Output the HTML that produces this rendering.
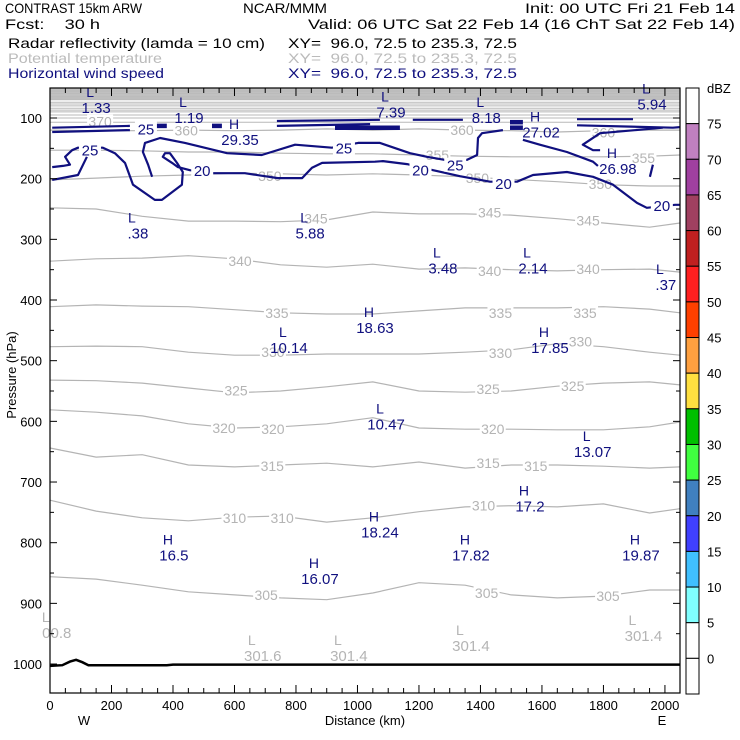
<!DOCTYPE html>
<html><head><meta charset="utf-8"><style>
html,body{margin:0;padding:0;background:#fff;}
svg{display:block;font-family:"Liberation Sans",sans-serif;}
text{white-space:pre;}
</style></head><body>
<svg id="chart" width="740" height="740" viewBox="0 0 740 740" xmlns="http://www.w3.org/2000/svg">
<g font-size="14" fill="#000">
<text x="5" y="13" textLength="137" lengthAdjust="spacingAndGlyphs">CONTRAST 15km ARW</text>
<text x="243" y="13" textLength="84" lengthAdjust="spacingAndGlyphs">NCAR/MMM</text>
<text x="525" y="13" textLength="210" lengthAdjust="spacingAndGlyphs">Init: 00 UTC Fri 21 Feb 14</text>
<text x="5" y="29" textLength="95" lengthAdjust="spacingAndGlyphs">Fcst:    30 h</text>
<text x="308" y="29" textLength="427" lengthAdjust="spacingAndGlyphs">Valid: 06 UTC Sat 22 Feb 14 (16 ChT Sat 22 Feb 14)</text>
<text x="8" y="48" textLength="257" lengthAdjust="spacingAndGlyphs">Radar reflectivity (lamda = 10 cm)</text>
<text x="288" y="48" textLength="229" lengthAdjust="spacingAndGlyphs">XY=  96.0, 72.5 to 235.3, 72.5</text>
<text x="8" y="63" fill="#bbb" textLength="154" lengthAdjust="spacingAndGlyphs">Potential temperature</text>
<text x="288" y="63" fill="#bbb" textLength="229" lengthAdjust="spacingAndGlyphs">XY=  96.0, 72.5 to 235.3, 72.5</text>
<text x="8" y="78" fill="#10107f" textLength="156" lengthAdjust="spacingAndGlyphs">Horizontal wind speed</text>
<text x="288" y="78" fill="#10107f" textLength="229" lengthAdjust="spacingAndGlyphs">XY=  96.0, 72.5 to 235.3, 72.5</text>
</g>
<g id="plot"></g>
<g id="axes"></g>
<g id="cbar"></g>
</svg>
<script>
const kmGrid = [0,150,300,450,600,750,900,1050,1200,1350,1500,1650,1800,1950,2049];
const thetaLevels = [360,355,350,345,340,335,330,325,320,315,310,305];
const theta360 = [120,121,121,120,121,120,118,120,118,120,121,123,121,120,120];
const theta355 = [153,153,154,156,156,158,159,159,161,163,164,164,164,163,161];
const theta350 = [202,199,196,194,191,192,194,192,194,197,201,205,210,212,212];
const theta345 = [248,250,262,270,270,271,268,255,258,258,260,266,273,280,273];
const theta340 = [336,332,331,327,332,342,346,341,349,347,350,352,350,349,354];
const theta335 = [411,408,410,411,416,421,423,423,418,413,413,413,411,415,421];
const theta330 = [477,476,477,486,491,491,489,489,489,486,482,472,477,486,491];
const theta325 = [532,533,537,545,553,550,543,535,550,552,550,542,537,535,540];
const theta320 = [581,585,591,604,611,609,604,594,611,613,613,614,614,609,601];
const theta315 = [644,659,655,672,675,672,669,675,667,677,672,672,674,677,675];
const theta310 = [730,748,759,764,758,756,766,759,749,741,739,741,736,751,744];
const theta305 = [856,860,870,881,886,891,894,883,866,870,886,891,888,878,878];
const thetaSeries = [theta360,theta355,theta350,theta345,theta340,theta335,theta330,theta325,theta320,theta315,theta310,theta305];
const upperThetaP = [107,100,95,90,87,84,80,77,74,70,67,64,60,57,54,51];
const thetaLabelLevels = ["370","360","360","360","355","355","350","350","350","345","345","345","340","340","340","335","335","335","330","330","330","325","325","325","320","320","320","315","315","315","310","310","310","305","305","305"];
const thetaLabelKm = [163,443,1340,1800,1260,1930,715,1390,1790,865,1430,1750,618,1430,1750,738,1465,1740,725,1465,1725,605,1425,1700,566,725,1440,723,1425,1580,600,755,1410,703,1420,1815];
const thetaLabelP = [106,121,120,124,161,166,196,199,209,266,256,269,336,352,349,421,421,421,486,487,468,549,547,542,611,613,613,674,669,674,759,759,739,886,883,888];
const wind25a = [[7,116],[260,113]];
const wind25b = [[7,123],[260,120]];
const wind25c = [[738,105],[1073,103]];
const wind25d = [[738,113],[1041,110]];
const wind25e = [[1180,103],[1343,103]];
const wind25f = [[1714,102],[1896,102]];
const wind25g = [[1714,112],[2026,116],[2049,115]];
const wind25mid = [[332,197],[319,177],[302,156],[309,141],[358,133],[439,141],[576,158],[689,161],[797,144],[917,149],[1002,141],[1073,141],[1171,158],[1226,164],[1285,169],[1356,169],[1389,161],[1392,133],[1405,125],[1473,120]];
const wind20loop = [[7,181],[42,179],[65,177],[49,164],[72,153],[91,149],[172,149],[211,158],[244,174],[270,210],[341,235],[364,235],[429,210],[432,189],[413,174],[390,158],[374,158],[367,164],[397,174],[416,181],[455,186],[527,191],[634,191],[741,199],[820,199],[852,182],[885,174],[1057,172],[1083,171],[1161,176],[1246,186],[1333,196],[1431,205],[1519,205],[1571,194],[1681,189],[1766,197],[1831,210],[1909,240],[1941,248],[2033,243],[2049,243]];
const wind20left = [[7,202],[91,194],[120,164]];
const windRightA = [[1993,116],[1789,125],[1733,144],[1766,153],[1789,153]];
const windRightB = [[1538,136],[1593,144],[1681,156],[1766,172],[1782,179]];
const windBracket = [[1961,177],[1951,197]];
const windThin = [wind25a,wind25b,wind25c,wind25d,wind25e,wind25f,wind25g,wind25mid,wind20loop,wind20left,windRightA,windRightB,windBracket];
const windThick = [[[345,113],[380,113]],[[527,113],[559,113]],[[927,116],[1138,116]],[[1496,107],[1538,107]],[[1496,116],[1538,116]]];
const windLabelText = ["25","25","20","25","20","25","20","20"];
const windLabelKm = [312,130,495,956,1205,1318,1475,1990];
const windLabelP = [117,152,186,149,185,177,207,243];
const extremaType = ["L","L","H","L","L","H","L","H","L","L","L","L","L","H","L","H","L","L","H","H","H","H","H","H"];
const extremaValue = ["1.33","1.19","29.35","7.39","8.18","27.02","5.94","26.98",".38","5.88","3.48","2.14",".37","18.63","10.14","17.85","10.47","13.07","17.2","18.24","16.5","17.82","19.87","16.07"];
const extremaKm = [150,452,618,1109,1419,1597,1958,1847,286,846,1278,1571,2003,1057,777,1626,1093,1765,1561,1073,403,1369,1922,878];
const extremaP = [65,82,118,73,82,106,60,166,272,272,330,330,357,428,461,461,587,632,722,765,803,803,803,842];
const surfaceLabelValue = ["00.8","301.6","301.4","301.4","301.4"];
const surfaceLabelKm = [22,692,972,1369,1930];
const surfaceLabelP = [931,969,969,952,936];
const groundKm = [0,40,65,85,105,125,380,400,2049];
const groundP = [1003,1002,996,993,997,1002,1002,1001,1001];
const yTicks = [100,200,300,400,500,600,700,800,900,1000];
const xTicks = [0,200,400,600,800,1000,1200,1400,1600,1800,2000];
const cbarLevels = ["75","70","65","60","55","50","45","40","35","30","25","20","15","10","5","0"];
const cbarColors = ["#ffffff","#c080c0","#a040a0","#a04060","#c02020","#ff2020","#ff4000","#ffa040","#ffe040","#00c000","#40ff40","#4080c0","#4040ff","#40c0ff","#80ffff","#ffffff","#ffffff"];

const NS="http://www.w3.org/2000/svg";
const X0=50,X1=680,Y0=88,Y1=693;
function xs(km){return X0+km*(X1-X0)/2049;}
function ys(p){return 118+(p-100)*0.6067;}
function mk(tag,parent,attrs){const e=document.createElementNS(NS,tag);for(const k in attrs)e.setAttribute(k,attrs[k]);parent.appendChild(e);return e;}
const plot=document.getElementById('plot');
const axes=document.getElementById('axes');
const cbar=document.getElementById('cbar');

let el=mk('rect',plot,{x:X0,y:Y0,width:X1-X0,height:ys(70)-Y0,fill:'#c4c4c4'});


upperThetaP.forEach(p=>{
  const l=mk('line',plot,{x1:X0,x2:X1,y1:ys(p),y2:ys(p),stroke:'#b8b8b8','stroke-width':1});
  
  
});
thetaSeries.forEach((arr,i)=>{
  const d=arr.map((p,j)=>(j?'L':'M')+xs(kmGrid[j]).toFixed(1)+' '+ys(p).toFixed(1)).join(' ');
  const pth=mk('path',plot,{d:d,fill:'none',stroke:'#b4b4b4','stroke-width':1.2});
  
  
});
thetaLabelLevels.forEach((t,i)=>{
  const x=xs(thetaLabelKm[i]),y=ys(thetaLabelP[i]);
  const r=mk('rect',plot,{x:x-13,y:y-7,width:26,height:13,fill:'#fff'});
  
  
  const tx=mk('text',plot,{x:x,y:y+5,'text-anchor':'middle','font-size':14,fill:'#b4b4b4'});
  tx.textContent=t;
  
  
});
function poly(pts){return pts.map((q,j)=>(j?'L':'M')+xs(q[0]).toFixed(1)+' '+ys(q[1]).toFixed(1)).join(' ');}
windThin.forEach(pts=>{
  const pth=mk('path',plot,{d:poly(pts),fill:'none',stroke:'#10107f','stroke-width':2.2,'stroke-linejoin':'round'});
  
  
});
windThick.forEach(pts=>{
  const pth=mk('path',plot,{d:poly(pts),fill:'none',stroke:'#10107f','stroke-width':4.5});
  
  
});
windLabelText.forEach((t,i)=>{
  const x=xs(windLabelKm[i]),y=ys(windLabelP[i]);
  const r=mk('rect',plot,{x:x-11,y:y-7,width:22,height:14,fill:'#fff'});
  
  
  const tx=mk('text',plot,{x:x,y:y+6,'text-anchor':'middle','font-size':15,fill:'#10107f'});
  tx.textContent=t;
  
  
});
extremaType.forEach((t,i)=>{
  const x=xs(extremaKm[i]),y=ys(extremaP[i]);
  const a=mk('text',plot,{x:x-6,y:y,'text-anchor':'middle','font-size':14,fill:'#10107f'});
  a.textContent=t;
  
  
  const b=mk('text',plot,{x:x,y:y+16,'text-anchor':'middle','font-size':15,fill:'#10107f'});
  b.textContent=extremaValue[i];
  
  
});
surfaceLabelValue.forEach((v,i)=>{
  const x=xs(surfaceLabelKm[i]),y=ys(surfaceLabelP[i]);
  const a=mk('text',plot,{x:x-11,y:y,'text-anchor':'middle','font-size':14,fill:'#b4b4b4'});
  a.textContent='L';
  
  
  const b=mk('text',plot,{x:x,y:y+16,'text-anchor':'middle','font-size':15,fill:'#b4b4b4'});
  b.textContent=v;
  
  
});
el=mk('path',plot,{d:groundKm.map((k,j)=>(j?'L':'M')+xs(k).toFixed(1)+' '+ys(groundP[j]).toFixed(1)).join(' '),fill:'none',stroke:'#000','stroke-width':2.5});



el=mk('rect',axes,{x:X0,y:Y0,width:X1-X0,height:Y1-Y0,fill:'none',stroke:'#000','stroke-width':1.2});


for(let p=100;p<=1000;p+=50){
  const y=ys(p),len=(p%100===0)?7:4;
  const a=mk('line',axes,{x1:X0,x2:X0+len,y1:y,y2:y,stroke:'#000'});
  
  
  const b=mk('line',axes,{x1:X1-len,x2:X1,y1:y,y2:y,stroke:'#000'});
  
  
}
yTicks.forEach(p=>{
  const t=mk('text',axes,{x:42,y:ys(p)+5,'text-anchor':'end','font-size':13});
  t.textContent=p;
  
  
});
for(let k=0;k<=2049;k+=50){
  const x=xs(k),len=(k%200===0)?8:5;
  const a=mk('line',axes,{x1:x,x2:x,y1:Y1-len,y2:Y1,stroke:'#000'});
  
  
  const b=mk('line',axes,{x1:x,x2:x,y1:Y0,y2:Y0+len,stroke:'#000'});
  
  
}
xTicks.forEach(k=>{
  const t=mk('text',axes,{x:xs(k),y:710,'text-anchor':'middle','font-size':13});
  t.textContent=k;
  
  
});
el=mk('text',axes,{x:365,y:725,'text-anchor':'middle','font-size':13});
el.textContent='Distance (km)';


el=mk('text',axes,{x:84,y:725,'text-anchor':'middle','font-size':13});
el.textContent='W';


el=mk('text',axes,{x:662,y:725,'text-anchor':'middle','font-size':13});
el.textContent='E';


el=mk('text',axes,{x:16,y:375,'text-anchor':'middle','font-size':13,transform:'rotate(-90 16 375)'});
el.textContent='Pressure (hPa)';



const CB0=88,CB1=694,segH=(CB1-CB0)/cbarColors.length;
cbarColors.forEach((c,i)=>{
  const r=mk('rect',cbar,{x:686,y:CB0+i*segH,width:13,height:segH,fill:c,stroke:'#000','stroke-width':1});
  
  
});
cbarLevels.forEach((l,i)=>{
  const t=mk('text',cbar,{x:707,y:CB0+(i+1)*segH+5,'font-size':13});
  t.textContent=l;
  
  
});
el=mk('text',cbar,{x:707,y:93,'font-size':13});
el.textContent='dBZ';


</script>
</body></html>
